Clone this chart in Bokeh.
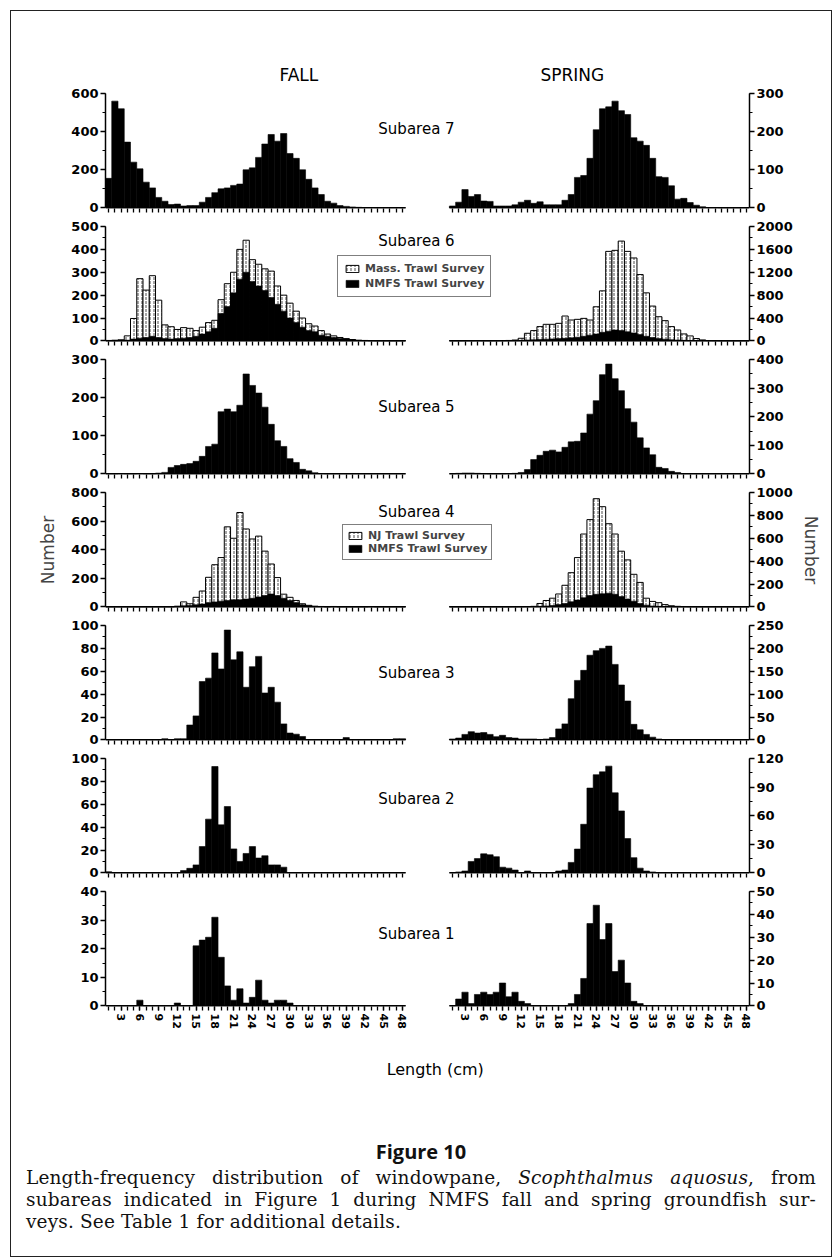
import math
from bokeh.plotting import figure
from bokeh.models import (Range1d, LinearAxis, SingleIntervalTicker, FixedTicker,
                          Label, Legend, LegendItem, Div)
from bokeh.layouts import column
from bokeh.embed import file_html
from bokeh.resources import INLINE
from bokeh.core.properties import value

# ---------------- data ----------------
length_cm = list(range(1, 49))
x_label_values = list(range(3, 49, 3))

fall_7 = [155, 560, 520, 345, 240, 205, 135, 105, 55, 35,
          18, 20, 10, 12, 12, 30, 55, 80, 100, 105,
          118, 125, 200, 210, 265, 335, 385, 350, 390, 285,
          260, 200, 150, 105, 70, 35, 25, 12, 8, 5,
          3, 2, 2, 1, 1, 1, 1, 0]
spring_7 = [5, 15, 48, 30, 35, 18, 17, 5, 5, 5,
            8, 15, 20, 12, 16, 8, 8, 8, 20, 35,
            80, 85, 130, 205, 260, 265, 280, 255, 245, 184,
            175, 164, 130, 82, 80, 58, 23, 25, 14, 7,
            3, 1, 1, 0, 0, 0, 0, 0]

fall_6_mass = [2, 3, 5, 22, 98, 272, 222, 285, 178, 70,
               62, 50, 58, 55, 45, 60, 80, 90, 180, 250,
               300, 400, 440, 355, 335, 315, 305, 240, 200, 165,
               130, 100, 75, 65, 45, 30, 22, 15, 10, 6,
               3, 2, 1, 0, 0, 0, 0, 0]
fall_6_nmfs = [0, 0, 1, 3, 8, 12, 15, 20, 15, 10,
               8, 10, 12, 15, 20, 30, 40, 55, 120, 150,
               210, 270, 300, 260, 240, 220, 190, 160, 130, 100,
               80, 60, 45, 40, 25, 20, 15, 10, 8, 5,
               2, 1, 0, 0, 0, 0, 0, 0]
spring_6_mass = [2, 2, 3, 3, 5, 3, 2, 3, 5, 8,
                 15, 46, 133, 180, 250, 290, 290, 307, 435, 365,
                 377, 394, 365, 597, 875, 1565, 1583, 1745, 1565, 1450,
                 1160, 840, 609, 423, 354, 250, 191, 122, 87, 41,
                 17, 5, 3, 0, 0, 0, 0, 0]
spring_6_nmfs = [0, 0, 1, 1, 2, 1, 1, 1, 2, 3,
                 5, 10, 15, 20, 25, 30, 35, 40, 45, 55,
                 65, 80, 100, 120, 150, 170, 190, 180, 160, 140,
                 110, 80, 60, 40, 30, 20, 15, 10, 5, 3,
                 1, 0, 0, 0, 0, 0, 0, 0]

fall_5 = [0, 0, 1, 0, 0, 1, 0, 0, 2, 4,
          17, 22, 25, 27, 33, 46, 72, 78, 163, 170,
          163, 180, 262, 232, 212, 175, 130, 87, 72, 40,
          30, 12, 8, 3, 1, 0, 0, 0, 0, 0,
          0, 0, 0, 0, 0, 0, 0, 0]
spring_5 = [0, 2, 3, 3, 2, 1, 0, 0, 0, 1,
            2, 5, 15, 50, 65, 79, 83, 77, 93, 112,
            114, 143, 209, 256, 347, 384, 333, 291, 228, 181,
            126, 91, 67, 23, 19, 9, 5, 0, 0, 0,
            0, 0, 0, 0, 0, 0, 0, 0]

fall_4_nj = [0, 0, 0, 0, 0, 0, 0, 0, 0, 0,
             0, 5, 35, 22, 67, 111, 207, 295, 345, 560,
             480, 660, 545, 475, 495, 390, 300, 205, 89, 67,
             45, 22, 11, 5, 3, 0, 3, 0, 0, 0,
             0, 0, 2, 0, 0, 0, 0, 0]
fall_4_nmfs = [0, 0, 0, 0, 0, 0, 0, 0, 0, 0,
               0, 2, 8, 10, 15, 20, 30, 35, 40, 45,
               50, 50, 55, 60, 70, 80, 90, 80, 60, 45,
               30, 15, 8, 3, 2, 0, 1, 0, 0, 0,
               0, 0, 1, 0, 0, 0, 0, 0]
spring_4_nj = [0, 0, 0, 0, 0, 0, 0, 0, 0, 0,
               1, 2, 3, 5, 30, 56, 76, 113, 189, 299,
               431, 637, 763, 946, 876, 727, 637, 487, 411, 285,
               214, 76, 48, 37, 20, 10, 5, 3, 2, 1,
               0, 0, 0, 0, 0, 0, 0, 0]
spring_4_nmfs = [0, 0, 0, 0, 0, 0, 0, 0, 0, 0,
                 0, 0, 1, 2, 5, 8, 12, 20, 30, 45,
                 60, 80, 100, 110, 115, 120, 110, 90, 70, 50,
                 30, 15, 8, 5, 3, 1, 0, 0, 0, 0,
                 0, 0, 0, 0, 0, 0, 0, 0]

fall_3 = [0, 0, 0, 0, 0, 0, 0, 0, 0, 1,
          0, 1, 1, 13, 21, 51, 54, 76, 62, 96,
          70, 77, 46, 64, 73, 41, 46, 33, 14, 6,
          5, 3, 0, 0, 0, 0, 0, 0, 2, 0,
          0, 0, 0, 0, 0, 0, 1, 1]
spring_3 = [2, 4, 12, 18, 15, 16, 12, 7, 10, 5,
            4, 2, 2, 2, 1, 2, 5, 24, 35, 90,
            130, 152, 185, 195, 200, 205, 165, 120, 85, 34,
            22, 12, 6, 2, 0, 0, 0, 0, 0, 0,
            0, 0, 0, 0, 0, 0, 0, 0]

fall_2 = [1, 0, 0, 0, 0, 0, 0, 0, 0, 0,
          0, 0, 2, 4, 7, 23, 47, 93, 42, 58,
          21, 10, 17, 23, 13, 15, 7, 7, 5, 0,
          0, 0, 0, 0, 0, 0, 0, 0, 0, 0,
          0, 0, 0, 0, 0, 0, 0, 0]
spring_2 = [0, 1, 2, 12, 15, 20, 19, 17, 6, 5,
            3, 0, 2, 0, 0, 0, 0, 2, 3, 11,
            25, 51, 89, 103, 106, 112, 84, 65, 36, 16,
            5, 2, 1, 0, 0, 0, 0, 0, 0, 0,
            0, 0, 0, 0, 0, 0, 0, 0]

fall_1 = [0, 0, 0, 0, 0, 2, 0, 0, 0, 0,
          0, 1, 0, 0, 21, 23, 24, 31, 17, 7,
          2, 6, 1, 3, 9, 2, 1, 2, 2, 1,
          0, 0, 0, 0, 0, 0, 0, 0, 0, 0,
          0, 0, 0, 0, 0, 0, 0, 0]
spring_1 = [0, 3, 6, 1, 5, 6, 5, 6, 10, 4,
            6, 2, 1, 0, 0, 0, 0, 0, 0, 1,
            5, 12, 36, 44, 29, 36, 15, 20, 10, 2,
            1, 0, 0, 0, 0, 0, 0, 0, 0, 0,
            0, 0, 0, 0, 0, 0, 0, 0]

subarea_names = ["Subarea 7", "Subarea 6", "Subarea 5", "Subarea 4",
                 "Subarea 3", "Subarea 2", "Subarea 1"]

# ---------------- layout constants ----------------
INNER_W = 810
FRAME_W = 644
FRAME_H = 115
B_LEFT = 94
B_RIGHT = 72
GAP = 7           # empty bins between the two panels
SHIFT = 48 + GAP  # offset of the spring panel on the shared x scale
FONT = "DejaVu Sans"

rows = [
    dict(fall=[fall_7], spring=[spring_7], lmax=600, lstep=200, rmax=300, rstep=100, off=36),
    dict(fall=[fall_6_mass, fall_6_nmfs], spring=[spring_6_mass, spring_6_nmfs],
         lmax=500, lstep=100, rmax=2000, rstep=400, off=15,
         legend=(["Mass. Trawl Survey", "NMFS Trawl Survey"], (232, 44), 6, 2)),
    dict(fall=[fall_5], spring=[spring_5], lmax=300, lstep=100, rmax=400, rstep=100, off=48),
    dict(fall=[fall_4_nj, fall_4_nmfs], spring=[spring_4_nj, spring_4_nmfs],
         lmax=800, lstep=200, rmax=1000, rstep=200, off=20, ylabel="Number",
         legend=(["NJ Trawl Survey", "NMFS Trawl Survey"], (237, 47), 4, 0)),
    dict(fall=[fall_3], spring=[spring_3], lmax=100, lstep=20, rmax=250, rstep=50, off=48),
    dict(fall=[fall_2], spring=[spring_2], lmax=100, lstep=20, rmax=120, rstep=30, off=41),
    dict(fall=[fall_1], spring=[spring_1], lmax=40, lstep=10, rmax=50, rstep=10, off=43),
]


def style_axis(ax, tick_out=5):
    ax.axis_line_color = "black"
    ax.axis_line_width = 1.5
    ax.major_tick_line_color = "black"
    ax.major_tick_line_width = 1.5
    ax.minor_tick_line_color = "black"
    ax.minor_tick_line_width = 1.2
    ax.major_tick_in = 0
    ax.major_tick_out = tick_out
    ax.minor_tick_in = 0
    ax.minor_tick_out = 3
    ax.major_label_text_font = FONT
    ax.major_label_text_font_style = "bold"
    ax.major_label_text_font_size = "13px"
    ax.major_label_text_color = "black"
    ax.major_label_standoff = 2


def draw_panel(p, series, **rng):
    if len(series) == 2:
        r1 = p.vbar(x=length_cm, top=series[0], width=1.0, bottom=0,
                    fill_color="white", line_color="black", line_width=1.0,
                    hatch_pattern="vertical_dash", hatch_color="black",
                    hatch_scale=4, hatch_weight=0.7, **rng)
        r2 = p.vbar(x=length_cm, top=series[1], width=1.0, bottom=0,
                    fill_color="black", line_color="black", line_width=0.6, **rng)
        rends = [r1, r2]
    else:
        rends = [p.vbar(x=length_cm, top=series[0], width=1.0, bottom=0,
                        fill_color="black", line_color="black", line_width=0.6, **rng)]
    # zero line of the panel
    p.segment(x0=[length_cm[0] - 0.5], x1=[length_cm[-1] + 0.5], y0=[0], y1=[0],
              line_color="black", line_width=1.6, **rng)
    return rends


def make_row(i, spec, last):
    bottom = 30 if last else 9
    lmax, rmax = spec["lmax"], spec["rmax"]
    half_px = 0.6 / FRAME_H
    p = figure(frame_width=FRAME_W, frame_height=FRAME_H,
               x_range=Range1d(0.5, 48.5 + SHIFT),
               y_range=Range1d(-lmax * half_px, lmax),
               min_border_left=B_LEFT, min_border_right=B_RIGHT,
               min_border_top=9, min_border_bottom=bottom,
               toolbar_location=None, output_backend="svg",
               x_axis_type=None, y_axis_type=None)
    p.extra_x_ranges = {"r": Range1d(0.5 - SHIFT, 48.5)}
    p.extra_y_ranges = {"ry": Range1d(-rmax * half_px, rmax)}
    p.outline_line_color = None
    p.grid.visible = False

    # y axes
    axl = LinearAxis(ticker=SingleIntervalTicker(interval=spec["lstep"], num_minor_ticks=2),
                     bounds=(0, lmax))
    style_axis(axl)
    axr = LinearAxis(y_range_name="ry", bounds=(0, rmax),
                     ticker=SingleIntervalTicker(interval=spec["rstep"], num_minor_ticks=2))
    style_axis(axr)
    if spec.get("ylabel"):
        for ax, st in ((axl, 10), (axr, 5)):
            ax.axis_label = spec["ylabel"]
            ax.axis_label_text_font = FONT
            ax.axis_label_text_font_style = "normal"
            ax.axis_label_text_font_size = "17px"
            ax.axis_label_standoff = st
    p.add_layout(axl, "left")
    p.add_layout(axr, "right")

    # one x axis carrying the ticks of both panels; zero lines are drawn per panel
    minor = length_cm + [v + SHIFT for v in length_cm]
    major = (x_label_values + [v + SHIFT for v in x_label_values]) if last else []
    axx = LinearAxis(ticker=FixedTicker(ticks=major, minor_ticks=minor))
    style_axis(axx, tick_out=4)
    axx.axis_line_color = None
    axx.minor_tick_out = 4
    axx.minor_tick_line_width = 1.3
    axx.major_tick_line_width = 1.3
    if last:
        axx.major_label_overrides = {v + SHIFT: str(v) for v in x_label_values}
        axx.major_label_text_font_size = "11px"
        axx.major_label_orientation = "vertical"
        axx.major_label_standoff = 3
    p.add_layout(axx, "below")

    left_r = draw_panel(p, spec["fall"])
    draw_panel(p, spec["spring"], x_range_name="r", y_range_name="ry")

    # subarea label, centred between the panels
    px_per_unit = FRAME_W / (48 + SHIFT)
    x_lab = 0.5 + (416 - 105) / px_per_unit
    y_lab = lmax * (1 - spec["off"] / FRAME_H)
    p.add_layout(Label(x=x_lab, y=y_lab, text=subarea_names[i], text_align="center",
                       text_baseline="middle", text_font=FONT, text_font_size="15px",
                       text_color="black"))

    if spec.get("legend"):
        labels, loc, pad, spc = spec["legend"]
        lg = Legend(items=[LegendItem(label=labels[0], renderers=[left_r[0]]),
                           LegendItem(label=labels[1], renderers=[left_r[1]])],
                    location=loc, orientation="vertical",
                    label_text_font=FONT, label_text_font_style="bold",
                    label_text_font_size="11px", label_standoff=5,
                    glyph_width=16, glyph_height=9, padding=pad, spacing=spc,
                    margin=0, border_line_color="black", border_line_width=1.5,
                    background_fill_color="white", background_fill_alpha=1.0,
                    label_height=13)
        p.add_layout(lg)
    return p


def text_canvas(w, h):
    p = figure(width=w, height=h, x_range=Range1d(0, w), y_range=Range1d(0, h),
               toolbar_location=None, output_backend="svg", min_border=0,
               x_axis_type=None, y_axis_type=None)
    p.outline_line_color = None
    p.grid.visible = False
    return p


header = text_canvas(INNER_W, 73)
header.text(x=[244, 589], y=[10, 10], text=["FALL", "SPRING"], text_align="center",
            text_baseline="middle", text_font=value(FONT), text_font_size=value("17px"),
            text_color="black")

row_figs = [make_row(i, spec, i == len(rows) - 1) for i, spec in enumerate(rows)]

footer = text_canvas(INNER_W, 60)
footer.text(x=[416], y=[27], text=["Length (cm)"], text_align="center",
            text_baseline="middle", text_font=value(FONT), text_font_size=value("16px"),
            text_color="black")

jline = ("font-size:18.5px;line-height:22px;letter-spacing:0.15px;"
         "text-align:justify;text-align-last:justify;white-space:nowrap;")
caption = Div(width=INNER_W, height=150, text=(
    "<div style=\"width:790px;margin-left:10px;font-family:'DejaVu Serif',serif;color:#111;\">"
    "<div style=\"height:38px\"></div>"
    "<div style=\"text-align:center;font-family:'Open Sans',sans-serif;font-weight:700;"
    "font-size:20px;line-height:26px;margin-bottom:2px;\">Figure 10</div>"
    f"<div style=\"{jline}\">"
    "Length-frequency distribution of windowpane, <i>Scophthalmus aquosus</i>, from</div>"
    f"<div style=\"{jline}\">"
    "subareas indicated in Figure 1 during NMFS fall and spring groundfish sur-</div>"
    "<div style=\"font-size:18.5px;line-height:22px;letter-spacing:0.15px;text-align:left;\">"
    "veys. See Table 1 for additional details.</div>"
    "</div>"))

layout = column([header] + row_figs + [footer, caption], spacing=0,
                styles={"margin-left": "10px", "margin-top": "10px",
                        "border": "1.5px solid #222"})

open("out.html", "w").write(file_html(layout, INLINE))
